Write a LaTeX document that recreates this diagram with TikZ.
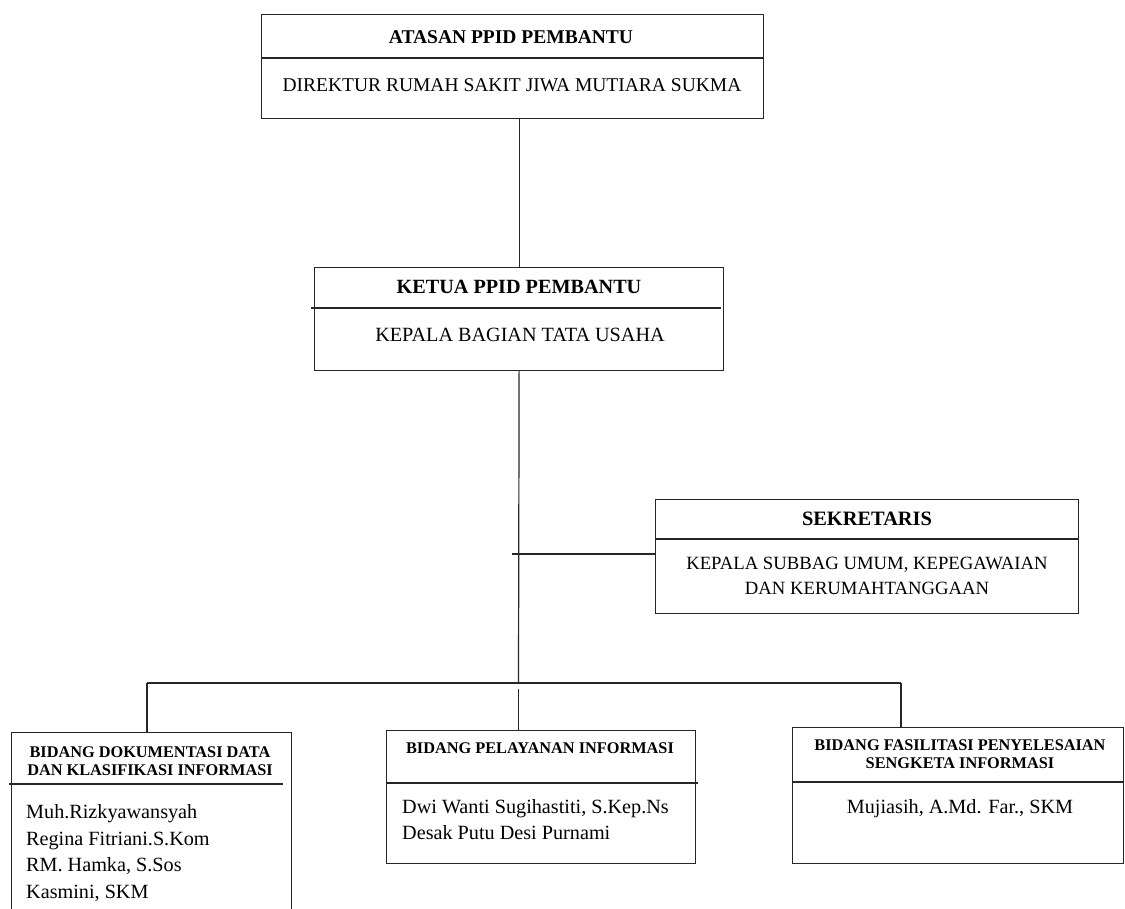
\documentclass[tikz,border=0pt]{standalone}
\usepackage{fontspec}
\setmainfont{Liberation Serif}
\begin{document}
\begin{tikzpicture}[x=1pt,y=-1pt,
  box/.style={draw=black!85, line width=1.2pt, rectangle, inner sep=0pt, anchor=north west},
  conn/.style={draw=black!85, line width=1.2pt},
  hd/.style={font=\fontsize{19.5}{23}\selectfont\bfseries, inner sep=0pt},
  tx/.style={font=\fontsize{19.5}{23}\selectfont, inner sep=0pt},
  sh/.style={font=\fontsize{16.3}{18}\selectfont\bfseries, inner sep=0pt},
  nm/.style={font=\fontsize{20.2}{23}\selectfont, inner sep=0pt, anchor=base west},
  nmc/.style={font=\fontsize{20.2}{23}\selectfont, inner sep=0pt, anchor=base}]

\useasboundingbox (0,0) rectangle (1125,909);

% boxes
\node[box, minimum width=502pt, minimum height=104pt] (atasan) at (261,14) {};
\node[box, minimum width=409pt, minimum height=103pt] (ketua) at (314,267) {};
\node[box, minimum width=423pt, minimum height=114pt] (sek) at (655,499) {};
\node[box, minimum width=280pt, minimum height=185pt] (dok) at (11,732) {};
\node[box, minimum width=309pt, minimum height=133pt] (pel) at (386,730) {};
\node[box, minimum width=331pt, minimum height=136pt] (fas) at (792,727) {};

% dividers
\draw[conn] (261,58) -- (763,58);
\draw[conn] (311,308) -- (721,308);
\draw[conn] (655,539) -- (1078,539);
\draw[conn] (9,784) -- (283,784);
\draw[conn] (386,783) -- (698,783);
\draw[conn] (792,782) -- (1123,782);

% texts
\node[hd] (atasanT) at (511,37) {ATASAN PPID PEMBANTU};
\node[tx] (atasanB) at (512,85) {DIREKTUR RUMAH SAKIT JIWA MUTIARA SUKMA};
\node[hd, font=\fontsize{20.2}{23}\selectfont\bfseries] (ketuaT) at (519,287) {KETUA PPID PEMBANTU};
\node[tx, font=\fontsize{20.2}{23}\selectfont] (ketuaB) at (520,335) {KEPALA BAGIAN TATA USAHA};
\node[hd, font=\fontsize{20.4}{23}\selectfont\bfseries] (sekT) at (867,519) {SEKRETARIS};
\node[tx, font=\fontsize{18.7}{22}\selectfont] (sekB1) at (867,565) {KEPALA SUBBAG UMUM, KEPEGAWAIAN};
\node[tx, font=\fontsize{18.7}{22}\selectfont] (sekB2) at (867,588) {DAN KERUMAHTANGGAAN};

\node[sh] (dokT1) at (150,752) {BIDANG DOKUMENTASI DATA};
\node[sh] (dokT2) at (150,770) {DAN KLASIFIKASI INFORMASI};
\node[nm] (dok1) at (26,818.5) {Muh.Rizkyawansyah};
\node[nm] (dok2) at (26,845) {Regina Fitriani.S.Kom};
\node[nm] (dok3) at (26,871.5) {RM. Hamka, S.Sos};
\node[nm] (dok4) at (26,898) {Kasmini, SKM};

\node[sh] (pelT) at (540,748) {BIDANG PELAYANAN INFORMASI};
\node[nm] (pel1) at (402,813.5) {Dwi Wanti Sugihastiti, S.Kep.Ns};
\node[nm] (pel2) at (402,839.5) {Desak Putu Desi Purnami};

\node[sh] (fasT1) at (960,745) {BIDANG FASILITASI PENYELESAIAN};
\node[sh] (fasT2) at (960,763) {SENGKETA INFORMASI};
\node[nmc] (fas1) at (960,813.5) {Mujiasih, A.Md. Far., SKM};

% connectors
\coordinate (bus) at (518.5,683);
\coordinate (sj) at (512,554);
\coordinate (bl) at (147,683);
\coordinate (br) at (901,683);
\coordinate (bc) at (518.5,689);
\draw[conn] (atasan.south -| ketua.north) -- (ketua.north);
\draw[conn] (ketua.south) -- (bus);
\draw[conn] (sj) -- (sj -| sek.west);
\draw[conn] (bl) -- (br);
\draw[conn] (bl) -- (bl |- dok.north);
\draw[conn] (br) -- (br |- fas.north);
\draw[conn] (bc) -- (bc |- pel.north);
\end{tikzpicture}
\end{document}
